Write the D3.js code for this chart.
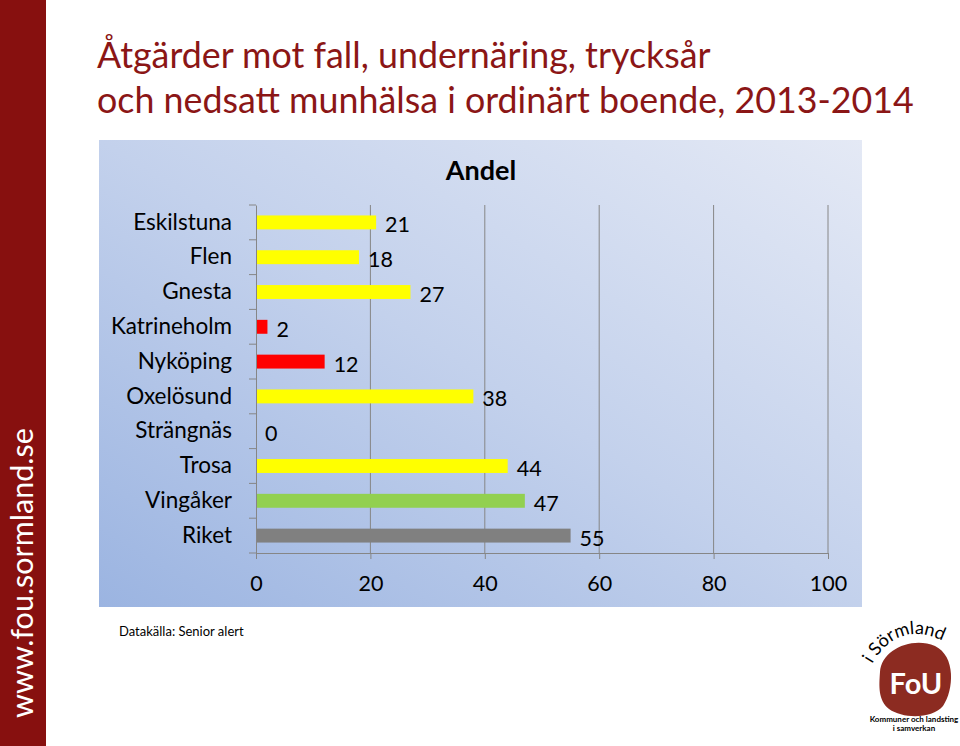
<!DOCTYPE html>
<html><head><meta charset="utf-8">
<script src="https://cdn.jsdelivr.net/npm/d3@7"></script>
<style>body{margin:0;background:#fff;} svg{display:block;font-family:Lato,"Open Sans",sans-serif;}</style>
</head><body>
<svg id="c" width="960" height="746"></svg>
<script>
const categories = ["Eskilstuna","Flen","Gnesta","Katrineholm","Nyköping","Oxelösund","Strängnäs","Trosa","Vingåker","Riket"];
const values = [21,18,27,2,12,38,0,44,47,55];
const colors = ["#ffff00","#ffff00","#ffff00","#ff0000","#ff0000","#ffff00","#ffff00","#ffff00","#92d050","#808080"];
const xTicks = [0,20,40,60,80,100];
const titleLines = ["Åtgärder mot fall, undernäring, trycksår","och nedsatt munhälsa i ordinärt boende, 2013-2014"];
const chartTitle = "Andel";
const source = "Datakälla: Senior alert";
const sideText = "www.fou.sormland.se";

const svg = d3.select("#c");
const defs = svg.append("defs");
const grad = defs.append("linearGradient").attr("id","bg").attr("x1","0").attr("y1","1").attr("x2","1").attr("y2","0");
grad.append("stop").attr("offset","0").attr("stop-color","#9bb4e1");
grad.append("stop").attr("offset","0.5").attr("stop-color","#c3d1ec");
grad.append("stop").attr("offset","1").attr("stop-color","#e4e9f5");

// side band
svg.append("rect").attr("x",0).attr("y",0).attr("width",46).attr("height",746).attr("fill","#87100f");
svg.append("text").attr("transform","translate(33,718) rotate(-90)")
  .attr("fill","#fff").attr("font-size",30.5).attr("font-family","Lato, sans-serif").text(sideText);

// titles
svg.selectAll("text.title").data(titleLines).join("text").attr("class","title")
  .attr("x",97).attr("y",(d,i)=>68+i*45).attr("fill","#8b1616").attr("font-size",35.8)
  .text(d=>d);

// chart background
svg.append("rect").attr("x",99).attr("y",140).attr("width",763).attr("height",467).attr("fill","url(#bg)");

const x = d3.scaleLinear().domain([0,100]).range([256,828]);
const y = d3.scaleBand().domain(categories).range([205,553]).paddingInner(0.6).paddingOuter(0.3);
const yb = d3.scaleBand().domain(categories).range([205,553]);

// gridlines
svg.append("g").selectAll("line").data(xTicks.slice(1)).join("line")
  .attr("x1",d=>x(d)).attr("x2",d=>x(d)).attr("y1",205).attr("y2",553)
  .attr("stroke","#868686").attr("stroke-width",1);

// bars
svg.append("g").selectAll("rect").data(values).join("rect")
  .attr("x",x(0)).attr("y",(d,i)=>y(categories[i])).attr("width",d=>x(d)-x(0))
  .attr("height",y.bandwidth()).attr("fill",(d,i)=>colors[i]);

// axes
const yAxis = d3.axisLeft(yb).tickSize(0).tickPadding(24).tickSizeOuter(0);
const gy = svg.append("g").attr("transform","translate(256,0)").call(yAxis);
gy.select(".domain").attr("stroke","#868686");
gy.selectAll("text").attr("font-size",22.5).attr("fill","#000").attr("font-family","Lato, sans-serif");
// left tick marks at band boundaries
svg.append("g").selectAll("line").data(d3.range(categories.length+1)).join("line")
  .attr("x1",249).attr("x2",256).attr("y1",i=>205+i*yb.step()).attr("y2",i=>205+i*yb.step())
  .attr("stroke","#868686");

const xAxis = d3.axisBottom(x).tickValues(xTicks).tickSize(6).tickPadding(17).tickSizeOuter(0);
const gx = svg.append("g").attr("transform","translate(0,553)").call(xAxis);
gx.select(".domain").attr("stroke","#868686");
gx.selectAll("line").attr("stroke","#868686");
gx.selectAll("text").attr("font-size",21.5).attr("fill","#000").attr("font-family","Lato, sans-serif");

// value labels
svg.append("g").selectAll("text").data(values).join("text")
  .attr("x",d=>x(d)+9).attr("y",(d,i)=>y(categories[i])+y.bandwidth()/2+10)
  .attr("font-size",21.5).attr("fill","#000").text(d=>d);

// chart title
svg.append("text").attr("x",481).attr("y",180).attr("text-anchor","middle")
  .attr("font-size",27).attr("font-weight","bold").attr("fill","#000").text(chartTitle);

// source
svg.append("text").attr("x",119).attr("y",636).attr("font-size",13).attr("fill","#000").text(source);

// logo
const logo = svg.append("g");
logo.append("path").attr("d","M880,672 C881,650 912,636 935,646 C956,656 954,690 943,706 C932,719 903,719 889,709 C878,700 879,686 880,672 Z").attr("fill","#8c2b21");
logo.append("text").attr("x",916).attr("y",694).attr("text-anchor","middle").attr("fill","#fff")
  .attr("font-size",29).attr("font-weight","bold").attr("font-family","Lato, sans-serif").text("FoU");
defs.append("path").attr("id","arc").attr("d","M872,664 Q903,612 958,650");
logo.append("text").attr("font-size",18).attr("fill","#000").attr("font-family","Lato, sans-serif")
  .append("textPath").attr("href","#arc").text("i Sörmland");
logo.append("text").attr("x",914).attr("y",722).attr("text-anchor","middle").attr("font-size",8)
  .attr("font-weight","bold").attr("fill","#000").text("Kommuner och landsting");
logo.append("text").attr("x",914).attr("y",731).attr("text-anchor","middle").attr("font-size",8)
  .attr("font-weight","bold").attr("fill","#000").text("i samverkan");
</script>
</body></html>
